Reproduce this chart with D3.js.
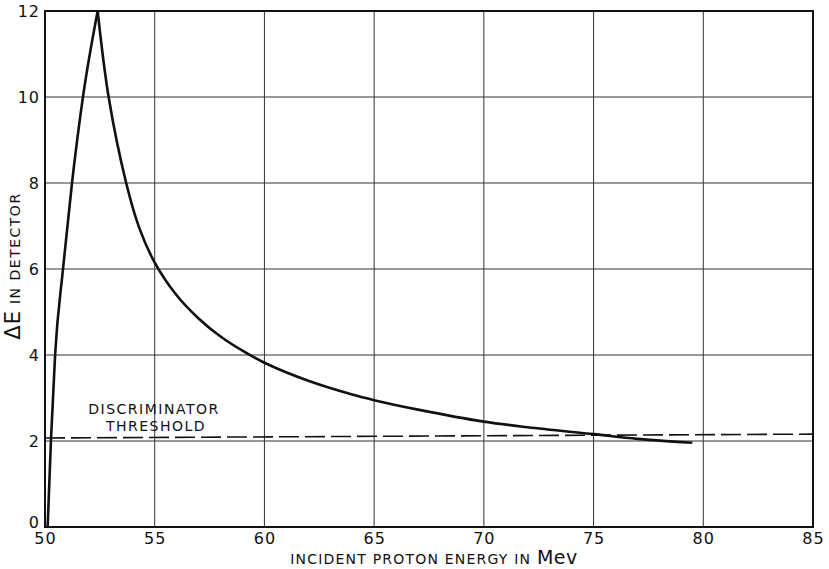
<!DOCTYPE html>
<html>
<head>
<meta charset="utf-8">
<script src="https://cdn.jsdelivr.net/npm/d3@7"></script>
<style>
  body { margin: 0; background: #fff; }
  svg { display: block; }
  text { font-family: 'DejaVu Sans', sans-serif; fill: #111; }
</style>
</head>
<body>
<svg></svg>
<script>
// rising side of the curve, up to the peak
let riseEnergy = [50.12, 50.27, 50.46, 50.82, 51.23, 51.73, 52.4]
let riseDeltaE = [0, 2, 4, 6, 8, 10, 12]
// falling side, from the peak out to ~79.5 Mev
let fallEnergy = [52.4, 52.9, 53.7, 54.3, 55, 56, 57, 58, 59, 60, 62, 64, 65, 67, 70, 72, 75, 77, 79.5]
let fallDeltaE = [12, 10, 8, 6.95, 6.15, 5.39, 4.85, 4.43, 4.1, 3.82, 3.4, 3.08, 2.95, 2.73, 2.45, 2.32, 2.16, 2.05, 1.96]
// discriminator threshold (dashed, slightly rising)
let threshEnergy = [50, 85]
let threshValue = [2.07, 2.16]

let xTicks = [50, 55, 60, 65, 70, 75, 80, 85]
let yTicks = [0, 2, 4, 6, 8, 10, 12]

let width = 829,
    height = 569,
    margin = {top: 11, right: 16, bottom: 42, left: 45}

let svg = d3.select('svg').attr('width', width).attr('height', height)

let x = d3.scaleLinear().domain([50, 85]).range([margin.left, width - margin.right])
let y = d3.scaleLinear().domain([0, 12]).range([height - margin.bottom, margin.top])

let zip = (a, b) => a.map((v, i) => [v, b[i]])

// grid
let grid = svg.append('g').attr('class', 'grid')
grid.selectAll('line.v')
  .data(xTicks)
  .enter().append('line')
  .attr('x1', d => x(d)).attr('x2', d => x(d))
  .attr('y1', y(0)).attr('y2', y(12))
  .attr('stroke', '#333').attr('stroke-width', 1)
grid.selectAll('line.h')
  .data(yTicks)
  .enter().append('line')
  .attr('x1', x(50)).attr('x2', x(85))
  .attr('y1', d => y(d)).attr('y2', d => y(d))
  .attr('stroke', '#333').attr('stroke-width', 1)

// frame
svg.append('rect')
  .attr('x', x(50)).attr('y', y(12))
  .attr('width', x(85) - x(50)).attr('height', y(0) - y(12))
  .attr('fill', 'none').attr('stroke', '#111').attr('stroke-width', 2)

// axes via d3 (labels only)
let xAxis = svg.append('g')
  .attr('transform', `translate(0,${y(0)})`)
  .call(d3.axisBottom(x).tickValues(xTicks).tickSize(0).tickPadding(6))
let yAxis = svg.append('g')
  .attr('transform', `translate(${x(50)},0)`)
  .call(d3.axisLeft(y).tickValues(yTicks).tickSize(0).tickPadding(5))
;[xAxis, yAxis].forEach(a => {
  a.select('.domain').remove()
  a.selectAll('text').style('font-size', '16px').style('font-family', "'DejaVu Sans', sans-serif")
    .style('letter-spacing', '1px').attr('fill', '#111')
})
// the "0" sits a little above the corner, clear of "50"
yAxis.selectAll('.tick').filter(d => d === 0).select('text').attr('dy', '0.05em')

// threshold
svg.append('path')
  .datum(zip(threshEnergy, threshValue))
  .attr('d', d3.line().x(d => x(d[0])).y(d => y(d[1])))
  .attr('fill', 'none').attr('stroke', '#111').attr('stroke-width', 1.6)
  .attr('stroke-dasharray', '20,6')

// curve
svg.append('path')
  .datum(zip(riseEnergy, riseDeltaE))
  .attr('d', d3.line().curve(d3.curveMonotoneX).x(d => x(d[0])).y(d => y(d[1])))
  .attr('fill', 'none').attr('stroke', '#111').attr('stroke-width', 2.6)
svg.append('path')
  .datum(zip(fallEnergy, fallDeltaE))
  .attr('d', d3.line().curve(d3.curveCatmullRom.alpha(0.5)).x(d => x(d[0])).y(d => y(d[1])))
  .attr('fill', 'none').attr('stroke', '#111').attr('stroke-width', 2.6)

// labels
svg.append('text').attr('x', 154).attr('y', 414).attr('text-anchor', 'middle')
  .style('font-size', '14px').style('letter-spacing', '1.5px').text('DISCRIMINATOR')
svg.append('text').attr('x', 156).attr('y', 431).attr('text-anchor', 'middle')
  .style('font-size', '14px').style('letter-spacing', '1.5px').text('THRESHOLD')

let xt = svg.append('text').attr('x', 434).attr('y', 564).attr('text-anchor', 'middle')
  .style('font-size', '14px').style('letter-spacing', '1.2px')
xt.append('tspan').text('INCIDENT  PROTON  ENERGY  IN ')
xt.append('tspan').style('font-size', '19px').style('letter-spacing', '0.5px').text('Mev')

let yt = svg.append('text')
  .attr('transform', `translate(20,266) rotate(-90)`)
  .attr('text-anchor', 'middle').style('font-size', '14px').style('letter-spacing', '1.5px')
yt.append('tspan').style('font-size', '21px').style('letter-spacing', '1px').text('ΔE')
yt.append('tspan').text('  IN  DETECTOR')
</script>
</body>
</html>
